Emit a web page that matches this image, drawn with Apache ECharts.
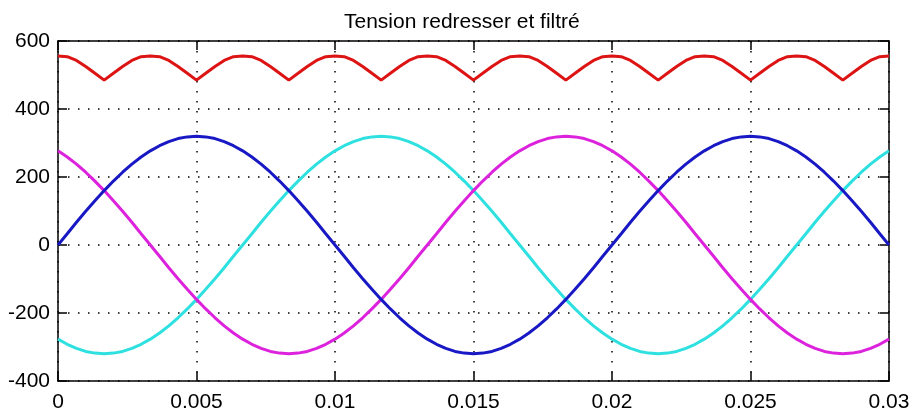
<!DOCTYPE html>
<html>
<head>
<meta charset="utf-8">
<script src="https://cdn.jsdelivr.net/npm/echarts@6/dist/echarts.min.js"></script>
<style>html,body{margin:0;padding:0;background:#fff;}#c{width:913px;height:414px;}</style>
</head>
<body>
<div id="c"></div>
<script>
var titleText = 'Tension redresser et filtré';
var xTicks = [0, 0.005, 0.01, 0.015, 0.02, 0.025, 0.03];
var yTicks = [-400, -200, 0, 200, 400, 600];

var time = [
0, 0.000333, 0.000667, 0.001, 0.001333, 0.001667, 0.002, 0.002333, 0.002667,
0.003, 0.003333, 0.003667, 0.004, 0.004333, 0.004667, 0.005, 0.005333, 0.005667,
0.006, 0.006333, 0.006667, 0.007, 0.007333, 0.007667, 0.008, 0.008333, 0.008667,
0.009, 0.009333, 0.009667, 0.010, 0.010333, 0.010667, 0.011, 0.011333, 0.011667,
0.012, 0.012333, 0.012667, 0.013, 0.013333, 0.013667, 0.014, 0.014333, 0.014667,
0.015, 0.015333, 0.015667, 0.016, 0.016333, 0.016667, 0.017, 0.017333, 0.017667,
0.018, 0.018333, 0.018667, 0.019, 0.019333, 0.019667, 0.020, 0.020333, 0.020667,
0.021, 0.021333, 0.021667, 0.022, 0.022333, 0.022667, 0.023, 0.023333, 0.023667,
0.024, 0.024333, 0.024667, 0.025, 0.025333, 0.025667, 0.026, 0.026333, 0.026667,
0.027, 0.027333, 0.027667, 0.028, 0.028333, 0.028667, 0.029, 0.029333, 0.029667,
0.030
];

var redressee = [
556,554,543,525,505,485,505,525,543,554,
556,554,543,525,505,485,505,525,543,554,
556,554,543,525,505,485,505,525,543,554,
556,554,543,525,505,485,505,525,543,554,
556,554,543,525,505,485,505,525,543,554,
556,554,543,525,505,485,505,525,543,554,
556,554,543,525,505,485,505,525,543,554,
556,554,543,525,505,485,505,525,543,554,
556,554,543,525,505,485,505,525,543,554,
556
];

var phaseBleu = [
0,33,67,99,130,160,188,214,238,259,277,292,304,313,318,320,
318,313,304,292,277,259,238,214,188,160,130,99,67,33,0,
-33,-67,-99,-130,-160,-188,-214,-238,-259,-277,-292,-304,-313,-318,-320,
-318,-313,-304,-292,-277,-259,-238,-214,-188,-160,-130,-99,-67,-33,
0,33,67,99,130,160,188,214,238,259,277,292,304,313,318,320,
318,313,304,292,277,259,238,214,188,160,130,99,67,33,0
];

var phaseMagenta = [
277,259,238,214,188,160,130,99,67,33,0,
-33,-67,-99,-130,-160,-188,-214,-238,-259,-277,-292,-304,-313,-318,-320,
-318,-313,-304,-292,-277,-259,-238,-214,-188,-160,-130,-99,-67,-33,
0,33,67,99,130,160,188,214,238,259,277,292,304,313,318,320,
318,313,304,292,277,259,238,214,188,160,130,99,67,33,0,
-33,-67,-99,-130,-160,-188,-214,-238,-259,-277,-292,-304,-313,-318,-320,
-318,-313,-304,-292,-277
];

var phaseCyan = [
-277,-292,-304,-313,-318,-320,
-318,-313,-304,-292,-277,-259,-238,-214,-188,-160,-130,-99,-67,-33,
0,33,67,99,130,160,188,214,238,259,277,292,304,313,318,320,
318,313,304,292,277,259,238,214,188,160,130,99,67,33,0,
-33,-67,-99,-130,-160,-188,-214,-238,-259,-277,-292,-304,-313,-318,-320,
-318,-313,-304,-292,-277,-259,-238,-214,-188,-160,-130,-99,-67,-33,
0,33,67,99,130,160,188,214,238,259,277
];

function pairs(vals){ return vals.map(function(v,i){ return [time[i], v]; }); }

var FONT = 'Liberation Sans, Arial, sans-serif';
var axisLineStyle = { show: true, onZero: false, lineStyle: { color: '#000', width: 1.5 } };
var tickStyle = { show: true, inside: true, length: 9, lineStyle: { color: '#000', width: 1.5 } };
var gridStyle = { show: true, lineStyle: { color: '#000', width: 1.5, type: [1.5, 8.5] } };

var chart = echarts.init(document.getElementById('c'), null, { renderer: 'canvas' });
chart.setOption({
  animation: false,
  backgroundColor: '#fff',
  title: {
    text: titleText, left: 339, top: 7,
    textStyle: { fontFamily: FONT, fontSize: 21, fontWeight: 'normal', color: '#000' }
  },
  grid: { left: 58, right: 24, top: 41, bottom: 33 },
  xAxis: [
    {
      type: 'value', position: 'bottom', min: xTicks[0], max: xTicks[xTicks.length-1], interval: 0.005,
      axisLine: axisLineStyle, axisTick: tickStyle, splitLine: gridStyle,
      axisLabel: { color: '#000', fontFamily: FONT, fontSize: 21, margin: 11,
        formatter: function(v){ return String(+v.toFixed(4)); } }
    },
    {
      type: 'value', position: 'top', min: xTicks[0], max: xTicks[xTicks.length-1], interval: 0.005,
      axisLine: axisLineStyle, axisTick: tickStyle, splitLine: { show: false }, axisLabel: { show: false }
    }
  ],
  yAxis: [
    {
      type: 'value', position: 'left', min: yTicks[0], max: yTicks[yTicks.length-1], interval: 200,
      axisLine: axisLineStyle, axisTick: tickStyle, splitLine: gridStyle,
      axisLabel: { color: '#000', fontFamily: FONT, fontSize: 21, margin: 8 }
    },
    {
      type: 'value', position: 'right', min: yTicks[0], max: yTicks[yTicks.length-1], interval: 200,
      axisLine: axisLineStyle, axisTick: tickStyle, splitLine: { show: false }, axisLabel: { show: false }
    }
  ],
  series: [
    { name: 'redressee', type: 'line', data: pairs(redressee), showSymbol: false, symbol: 'none',
      lineStyle: { color: '#dc1414', width: 3 }, z: 3 },
    { name: 'c', type: 'line', data: pairs(phaseCyan), showSymbol: false, symbol: 'none',
      lineStyle: { color: '#2ee0e0', width: 3 }, z: 3 },
    { name: 'm', type: 'line', data: pairs(phaseMagenta), showSymbol: false, symbol: 'none',
      lineStyle: { color: '#dc22dc', width: 3 }, z: 3 },
    { name: 'b', type: 'line', data: pairs(phaseBleu), showSymbol: false, symbol: 'none',
      lineStyle: { color: '#1818c4', width: 3 }, z: 3 }
  ]
});
</script>
</body>
</html>
